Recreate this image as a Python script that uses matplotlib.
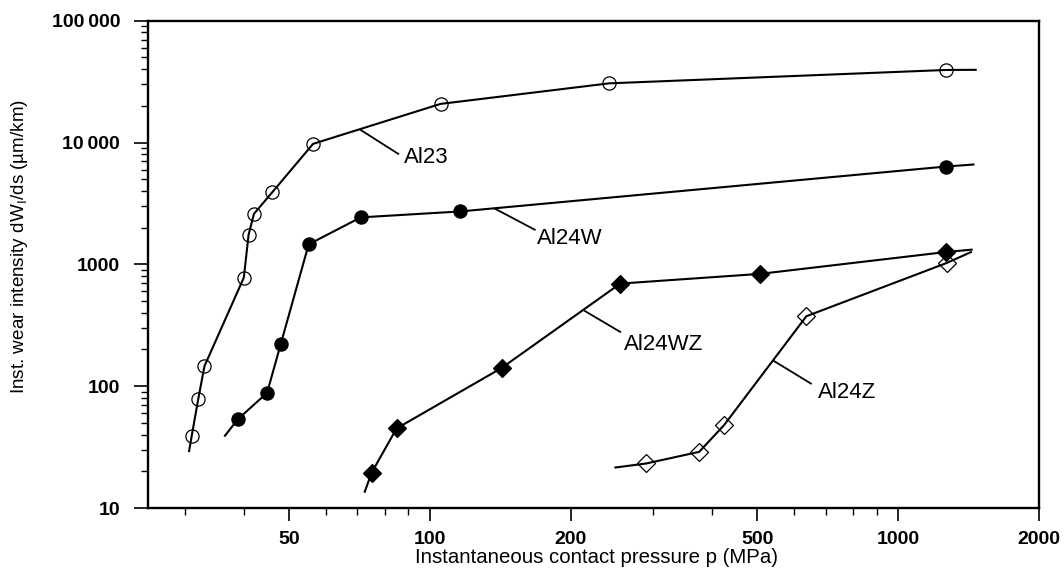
import numpy as np
import matplotlib.pyplot as plt
from matplotlib.ticker import FixedLocator, NullFormatter, LogLocator

plt.rcParams['font.family'] = ['Liberation Sans', 'DejaVu Sans']

# measured points (pressure MPa, wear intensity um/km)
al23_p = [31.0, 32.0, 33.0, 40.05, 41.0, 42.1, 46.1, 56.3, 105.4, 241.6, 1266]
al23_w = [39.2, 78, 146, 778, 1750, 2600, 3920, 9750, 20750, 30600, 39400]
al23_ends_p = [30.6, 1465]
al23_ends_w = [29.3, 39500]

al24w_p = [38.9, 44.9, 48.0, 55.1, 71.2, 116, 1265]
al24w_w = [53.6, 88.1, 220, 1460, 2430, 2717, 6350]
al24w_ends_p = [36.5, 1449]
al24w_ends_w = [39.2, 6600]

al24wz_p = [75.1, 84.9, 142.3, 255, 507, 1265]
al24wz_w = [19.5, 45, 141, 695, 835, 1262]
al24wz_ends_p = [72.6, 1436]
al24wz_ends_w = [13.6, 1320]

al24z_p = [289.8, 376, 425, 637, 1270]
al24z_w = [23.2, 28.9, 47.9, 375, 1026]
al24z_ends_p = [249, 1431]
al24z_ends_w = [21.5, 1260]

# curve labels with leader lines
names = ['Al23', 'Al24W', 'Al24WZ', 'Al24Z']
leader_p = [(71.1, 85.6), (137.7, 167.5), (214.3, 255), (543, 651.6)]
leader_w = [(12700, 8070), (2865, 1924), (414, 279), (161, 105)]
name_p = [87.9, 169, 260, 676]
name_w = [6850, 1480, 197, 79.3]

x_ticks = [50, 100, 200, 500, 1000, 2000]
x_minor = [30, 40, 60, 70, 80, 90, 300, 400, 600, 700, 800, 900]
y_ticks = [10, 100, 1000, 10000, 100000]
y_tick_labels = ['10', '100', '1000', '10\u2009000', '100\u2009000']


def full_line(ends_p, ends_w, p, w):
    return [ends_p[0]] + p + [ends_p[1]], [ends_w[0]] + w + [ends_w[1]]


fig = plt.figure(figsize=(10.64, 5.86), dpi=100)
ax = fig.add_axes([0.1391, 0.1331, 0.8374, 0.8316])

series = [
    (al23_p, al23_w, al23_ends_p, al23_ends_w, 'o', 'none'),
    (al24w_p, al24w_w, al24w_ends_p, al24w_ends_w, 'o', 'k'),
    (al24wz_p, al24wz_w, al24wz_ends_p, al24wz_ends_w, 'D', 'k'),
    (al24z_p, al24z_w, al24z_ends_p, al24z_ends_w, 'D', 'none'),
]
for p, w, ep, ew, mk, fc in series:
    lp, lw_ = full_line(ep, ew, p, w)
    ax.plot(lp, lw_, color='k', lw=1.5, zorder=2)
    ms = 9.5 if mk == 'o' else 9.0
    ax.plot(p, w, mk, ms=ms, mfc=fc, mec='k', mew=0.9, zorder=3)

for name, lpp, lww, tp, tw in zip(names, leader_p, leader_w, name_p, name_w):
    ax.plot(lpp, lww, color='k', lw=1.3)
    ax.text(tp, tw, name, fontsize=16, va='baseline', ha='left')

ax.set_xscale('log')
ax.set_yscale('log')
ax.set_xlim(25, 2000)
ax.set_ylim(10, 100000)

ax.xaxis.set_major_locator(FixedLocator(x_ticks))
ax.set_xticklabels([str(t) for t in x_ticks])
ax.xaxis.set_minor_locator(FixedLocator(x_minor))
ax.xaxis.set_minor_formatter(NullFormatter())
ax.yaxis.set_major_locator(FixedLocator(y_ticks))
ax.set_yticklabels(y_tick_labels)
ax.yaxis.set_minor_locator(LogLocator(base=10, subs=np.arange(2, 10)))
ax.yaxis.set_minor_formatter(NullFormatter())

ax.tick_params(which='major', width=1.2, direction='out', labelsize=14)
ax.tick_params(axis='x', which='major', length=9.6, pad=7)
ax.tick_params(axis='y', which='major', length=10, pad=10)
ax.tick_params(which='minor', length=5, width=1.0, direction='out')
for lab in ax.get_xticklabels() + ax.get_yticklabels():
    lab.set_fontweight('bold')
for sp in ax.spines.values():
    sp.set_linewidth(1.7)

ax.set_xlabel('Instantaneous contact pressure p (MPa)', fontsize=14.7)
ax.set_ylabel('Inst. wear intensity dW$_\\mathregular{I}$/ds (\u00b5m/km)', fontsize=13.6)
ax.xaxis.set_label_coords(0.503, -0.082)
ax.yaxis.set_label_coords(-0.132, 0.537)

fig.savefig('out.png', dpi=100)
